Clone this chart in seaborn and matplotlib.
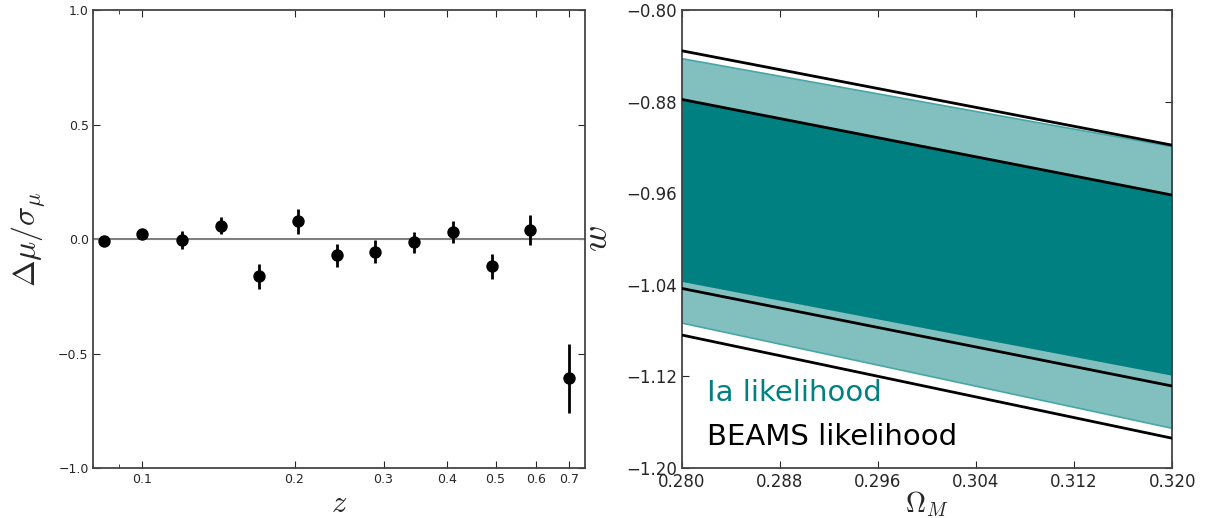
import numpy as np
import pandas as pd
import seaborn as sns
import matplotlib.pyplot as plt

# left panel: binned Hubble residuals
z = [0.084, 0.100, 0.120, 0.143, 0.170, 0.2035, 0.2425, 0.289, 0.345, 0.411, 0.492, 0.586, 0.700]
resid = [-0.007, 0.022, -0.004, 0.058, -0.163, 0.077, -0.070, -0.055, -0.015, 0.029, -0.119, 0.039, -0.608]
resid_err = [0.012, 0.018, 0.040, 0.038, 0.056, 0.055, 0.050, 0.050, 0.045, 0.048, 0.054, 0.066, 0.150]
z_ticks = [0.1, 0.2, 0.3, 0.4, 0.5, 0.6, 0.7]

# right panel: contour edges at the two ends of the Omega_M range
om = [0.28, 0.32]
ia_outer_hi = [-0.842, -0.919]
ia_outer_lo = [-1.073, -1.165]
ia_inner_hi = [-0.878, -0.961]
ia_inner_lo = [-1.037, -1.119]
beams_outer_hi = [-0.8355, -0.918]
beams_outer_lo = [-1.0838, -1.174]
beams_inner_hi = [-0.878, -0.9616]
beams_inner_lo = [-1.0431, -1.1284]

sns.set_style("ticks", {"xtick.direction": "in", "ytick.direction": "in"})
plt.rcParams["font.family"] = ["DejaVu Sans"]
plt.rcParams["mathtext.fontset"] = "cm"

fig = plt.figure(figsize=(12.08, 5.18), dpi=100)
ax1 = fig.add_axes([0.0774, 0.0965, 0.4065, 0.884])
ax2 = fig.add_axes([0.5643, 0.0965, 0.4061, 0.884])

# ---- left
df = pd.DataFrame({"z": z, "resid": resid, "err": resid_err})
ax1.axhline(0, color="grey", lw=1.5, zorder=1)
ax1.errorbar(df["z"], df["resid"], yerr=df["err"], fmt="none", ecolor="black", elinewidth=2, zorder=2)
sns.scatterplot(data=df, x="z", y="resid", ax=ax1, color="black", s=80, linewidth=0, zorder=3)
ax1.set_xscale("log")
ax1.set_xlim(0.08, 0.75)
ax1.set_ylim(-1, 1)
ax1.set_xticks(z_ticks)
ax1.set_xticklabels([str(t) for t in z_ticks])
ax1.set_yticks([-1.0, -0.5, 0.0, 0.5, 1.0])
ax1.set_yticklabels(["\u22121.0", "\u22120.5", "0.0", "0.5", "1.0"])
ax1.tick_params(which="both", top=True, right=True, labelsize=9)
ax1.tick_params(which="major", length=5)
ax1.tick_params(which="minor", length=3)
ax1.set_xlabel(r"$z$", fontsize=22)
ax1.set_ylabel(r"$\Delta\mu/\sigma_\mu$", fontsize=23)
ax1.xaxis.set_label_coords(0.5, -0.046)
ax1.yaxis.set_label_coords(-0.093, 0.5)

# ---- right
teal = "#008080"
ax2.fill_between(om, ia_outer_lo, ia_outer_hi, color="#82c0c0", edgecolor="#4aa6a6", lw=1.2, zorder=1)
ax2.fill_between(om, ia_inner_lo, ia_inner_hi, color=teal, lw=0, zorder=2)
for hi, lo in [(beams_outer_hi, beams_outer_lo), (beams_inner_hi, beams_inner_lo)]:
    sns.lineplot(x=om, y=hi, ax=ax2, color="black", lw=2, zorder=3)
    sns.lineplot(x=om, y=lo, ax=ax2, color="black", lw=2, zorder=3)
ax2.set_xlim(0.28, 0.32)
ax2.set_ylim(-1.2, -0.8)
ax2.set_xticks(np.linspace(0.28, 0.32, 6))
ax2.set_xticklabels(["0.280", "0.288", "0.296", "0.304", "0.312", "0.320"])
ax2.set_yticks(np.linspace(-1.2, -0.8, 6))
ax2.set_yticklabels(["\u22121.20", "\u22121.12", "\u22121.04", "\u22120.96", "\u22120.88", "\u22120.80"])
ax2.tick_params(top=True, right=True, labelsize=12, length=5)
ax2.set_xlabel(r"$\Omega_M$", fontsize=20)
ax2.set_ylabel(r"$w$", fontsize=26)
ax2.xaxis.set_label_coords(0.5, -0.046)
ax2.yaxis.set_label_coords(-0.137, 0.5)
ax2.text(0.28203, -1.1412, "Ia likelihood", color=teal, fontsize=21)
ax2.text(0.28203, -1.1799, "BEAMS likelihood", color="black", fontsize=21)

for ax in (ax1, ax2):
    for s in ax.spines.values():
        s.set_color("#444444")
        s.set_linewidth(1.3)

fig.savefig("out.png", dpi=100)
